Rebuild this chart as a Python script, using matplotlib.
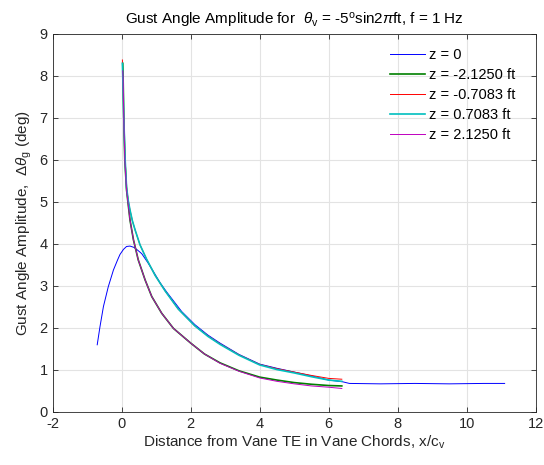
import matplotlib
matplotlib.use("Agg")
import matplotlib.pyplot as plt


# ==========================================================
# Data
# ==========================================================

x_center = [-0.71, -0.63, -0.53, -0.39, -0.24, -0.12, -0.05, 0.05, 0.14,
            0.24, 0.35, 0.45, 0.58, 0.77, 0.95, 1.11, 1.3, 1.74, 2.12,
            2.5, 2.85, 3.4, 4.0, 4.5, 5.0, 5.5, 6.0, 6.4, 6.6, 7.5, 8.5,
            9.5, 10.5, 11.1]
y_center = [1.60, 2.03, 2.51, 2.98, 3.38, 3.62, 3.75, 3.87, 3.94,
            3.95, 3.92, 3.86, 3.77, 3.54, 3.30, 3.08, 2.86, 2.39, 2.08,
            1.83, 1.64, 1.37, 1.14, 1.04, 0.95, 0.86, 0.76, 0.72, 0.68,
            0.67, 0.68, 0.67, 0.68, 0.68]

x_upper = [0.02, 0.03, 0.06, 0.10, 0.14, 0.19, 0.24, 0.31, 0.39, 0.53,
           0.72, 0.97, 1.26, 1.64, 2.12, 2.5, 2.85, 3.4, 4.0, 4.5, 5.0,
           5.5, 6.0, 6.38]
y_m0708 = [8.38, 8.0, 7.0, 6.0, 5.35, 5.03, 4.81, 4.55, 4.33, 3.98,
           3.64, 3.25, 2.88, 2.45, 2.05, 1.81, 1.62, 1.36, 1.13, 1.03,
           0.95, 0.87, 0.80, 0.78]
y_p0708 = [8.30, 8.0, 7.0, 6.0, 5.35, 5.03, 4.81, 4.55, 4.33, 3.98,
           3.64, 3.25, 2.88, 2.45, 2.05, 1.80, 1.61, 1.35, 1.12, 1.01,
           0.93, 0.84, 0.76, 0.73]

x_lower = [0.03, 0.04, 0.06, 0.09, 0.14, 0.24, 0.34, 0.48, 0.68, 0.87,
           1.16, 1.5, 2.0, 2.4, 2.85, 3.4, 4.0, 4.5, 5.0, 5.5, 6.0, 6.38]
y_m2125 = [8.30, 8.0, 7.0, 6.0, 5.29, 4.57, 4.10, 3.62, 3.14, 2.75,
           2.35, 1.99, 1.64, 1.38, 1.17, 0.98, 0.83, 0.76, 0.70, 0.66,
           0.63, 0.62]
y_p2125 = [8.12, 7.95, 7.0, 6.0, 5.29, 4.57, 4.10, 3.62, 3.14, 2.75,
           2.35, 1.99, 1.64, 1.38, 1.16, 0.97, 0.81, 0.73, 0.67, 0.62,
           0.59, 0.56]

labels = ["z = 0", "z = -2.1250 ft", "z = -0.7083 ft",
          "z = 0.7083 ft", "z = 2.1250 ft"]


# ==========================================================
# Style
# ==========================================================

plt.rcParams["font.family"] = ["Liberation Sans", "DejaVu Sans"]
plt.rcParams["mathtext.fontset"] = "custom"
plt.rcParams["mathtext.rm"] = "Liberation Sans"
plt.rcParams["mathtext.it"] = "Liberation Sans:italic"
plt.rcParams["axes.unicode_minus"] = False
plt.rcParams["font.size"] = 10

ink = "#262626"


# ==========================================================
# Plot
# ==========================================================

fig = plt.figure(figsize=(5.44, 4.65), dpi=100)
ax = fig.add_axes([0.0969, 0.114, 0.8878, 0.813])

ax.plot(x_center, y_center, color="#0000ff", lw=0.7, label=labels[0])
ax.plot(x_lower, y_m2125, color="#008000", lw=1.2, label=labels[1])
ax.plot(x_upper, y_m0708, color="#ff0000", lw=0.7, label=labels[2])
ax.plot(x_upper, y_p0708, color="#00bfbf", lw=1.2, label=labels[3])
ax.plot(x_lower, y_p2125, color="#bf00bf", lw=0.7, label=labels[4])

ax.set_xlim(-2, 12)
ax.set_ylim(0, 9)
ax.set_xticks(range(-2, 13, 2))
ax.set_yticks(range(0, 10))

ax.grid(True, color="#e3e3e3", lw=0.8)
ax.set_axisbelow(True)

ax.tick_params(direction="in", top=True, right=True, length=3.5,
               width=0.6, colors=ink, labelsize=10.5)
for s in ax.spines.values():
    s.set_color(ink)
    s.set_linewidth(0.6)

ax.set_title(r"Gust Angle Amplitude for  $\theta_{\rm v}$ = -5$^{\rm o}$sin2$\pi$ft, f = 1 Hz",
             fontsize=11, color="black", pad=7)
ax.set_xlabel(r"Distance from Vane TE in Vane Chords, x/c$_{\rm v}$",
              fontsize=11, color=ink, labelpad=2)
ax.set_ylabel(r"Gust Angle Amplitude,  $\Delta\theta_{\rm g}$ (deg)",
              fontsize=11, color=ink, labelpad=4)

ax.legend(loc="upper left", bbox_to_anchor=(0.717, 0.897),
          bbox_transform=fig.transFigure, frameon=False,
          borderpad=0, borderaxespad=0, handlelength=2.4,
          handletextpad=0.3, labelspacing=0.42, fontsize=10.5)

fig.savefig("out.png", dpi=100)
